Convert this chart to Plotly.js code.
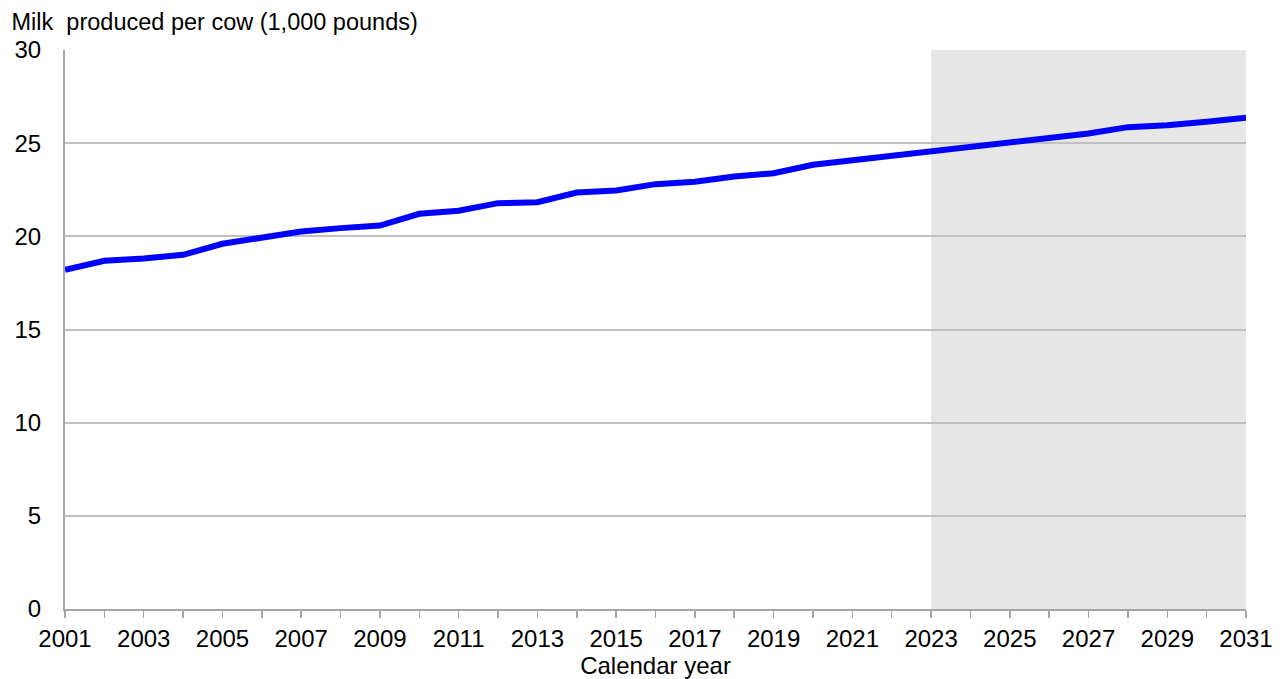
<!DOCTYPE html>
<html>
<head>
<meta charset="utf-8">
<script src="https://cdn.plot.ly/plotly-3.0.1.min.js"></script>
<style>html,body{margin:0;padding:0;background:#fff;}#chart{width:1283px;height:679px;}</style>
</head>
<body>
<div id="chart"></div>
<script>
const years = [2001,2002,2003,2004,2005,2006,2007,2008,2009,2010,2011,2012,2013,2014,2015,2016,2017,2018,2019,2020,2021,2022,2023,2024,2025,2026,2027,2028,2029,2030,2031];
const milkPerCow = [18.20,18.69,18.81,19.01,19.60,19.93,20.26,20.44,20.58,21.21,21.37,21.78,21.83,22.35,22.46,22.80,22.93,23.21,23.39,23.84,24.08,24.37,24.59,24.87,25.09,25.30,25.52,25.86,25.96,26.15,26.36];
const projectionStart = 2023;
const projectionEnd = 2031;
const yTicks = [0,5,10,15,20,25,30];
const xTicks = [2001,2003,2005,2007,2009,2011,2013,2015,2017,2019,2021,2023,2025,2027,2029,2031];

const trace = {
  x: years, y: milkPerCow, type: 'scatter', mode: 'lines',
  line: {color: '#0000ff', width: 6},
  hoverinfo: 'x+y'
};

const layout = {
  width: 1283, height: 679,
  margin: {l: 65, r: 37, t: 50, b: 70},
  paper_bgcolor: '#ffffff', plot_bgcolor: '#ffffff',
  font: {family: 'Liberation Sans, Arial, sans-serif', color: '#000000', size: 24},
  showlegend: false,
  title: {
    text: 'Milk  produced per cow (1,000 pounds)',
    xref: 'container', yref: 'container',
    x: 0.009, xanchor: 'left', y: 0.968, yanchor: 'middle',
    font: {size: 23.5, color: '#000000'}
  },
  xaxis: {
    range: [2001, 2031],
    tickmode: 'array', tickvals: xTicks, ticktext: xTicks.map(String),
    showgrid: false, zeroline: false,
    showline: true, linecolor: '#a6a6a6', linewidth: 2,
    ticks: 'outside', ticklen: 7, tickwidth: 1.5, tickcolor: '#a6a6a6',
    minor: {dtick: 1, tick0: 2001, ticks: 'outside', ticklen: 7, tickwidth: 1.5, tickcolor: '#a6a6a6', showgrid: false},
    tickfont: {size: 24},
    title: {text: 'Calendar year', font: {size: 24}, standoff: 2}
  },
  yaxis: {
    range: [0, 30],
    tickmode: 'array', tickvals: yTicks, ticktext: yTicks.map(String),
    showgrid: true, gridcolor: '#c0c0c0', gridwidth: 2,
    zeroline: false,
    showline: true, linecolor: '#a6a6a6', linewidth: 2,
    ticks: '', ticklabelstandoff: 17,
    tickfont: {size: 24}
  },
  shapes: [{
    type: 'rect', layer: 'below', xref: 'x', yref: 'paper',
    x0: projectionStart, x1: projectionEnd, y0: 0, y1: 1,
    fillcolor: '#e7e7e7', line: {width: 0}
  }]
};

Plotly.newPlot('chart', [trace], layout, {displayModeBar: false, staticPlot: true});
</script>
</body>
</html>
